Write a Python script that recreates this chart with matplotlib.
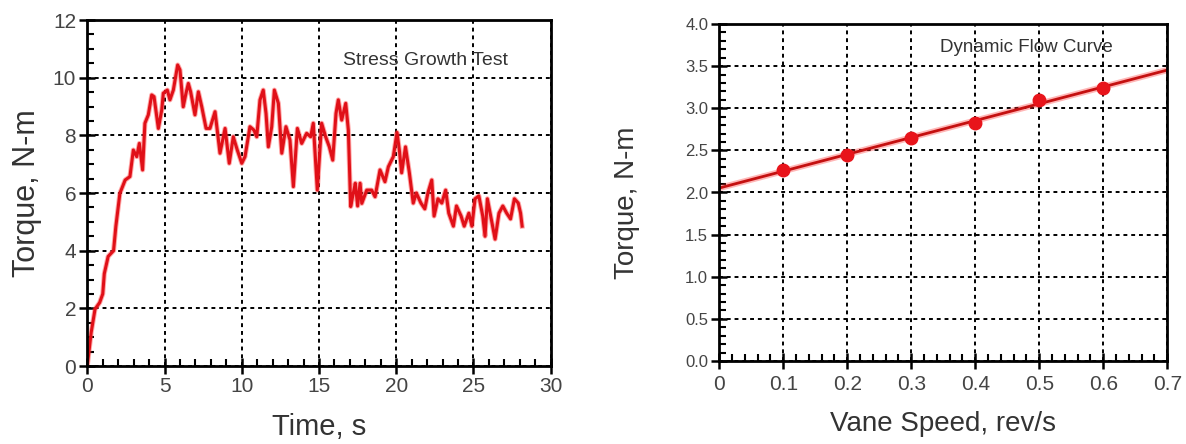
import numpy as np
import matplotlib.pyplot as plt
from matplotlib.ticker import MultipleLocator

plt.rcParams['font.family'] = ['Liberation Sans', 'DejaVu Sans']

# Stress growth test (time in s, torque in N-m)
time_s = [0.0, 0.25, 0.5, 0.8, 1.0, 1.1, 1.35, 1.7, 1.85, 2.11, 2.45, 2.76, 2.98,
          3.2, 3.37, 3.58, 3.73, 3.95, 4.17, 4.32, 4.6, 4.82, 4.92, 5.18, 5.35,
          5.57, 5.85, 6.0, 6.21, 6.39, 6.54, 6.69, 6.97, 7.19, 7.41, 7.69, 7.94,
          8.27, 8.59, 8.92, 9.19, 9.45, 9.71, 10.0, 10.21, 10.53, 10.79, 10.97,
          11.18, 11.39, 11.57, 11.72, 11.94, 12.11, 12.37, 12.59, 12.86, 13.12,
          13.34, 13.6, 13.88, 14.2, 14.46, 14.63, 14.89, 15.17, 15.43, 15.67,
          15.89, 16.1, 16.25, 16.47, 16.73, 16.9, 17.05, 17.22, 17.35, 17.5,
          17.66, 17.77, 18.09, 18.41, 18.63, 18.95, 19.27, 19.49, 19.81, 20.05,
          20.2, 20.35, 20.6, 20.85, 21.1, 21.3, 21.6, 21.85, 22.05, 22.3, 22.45,
          22.7, 22.95, 23.2, 23.4, 23.7, 23.9, 24.2, 24.4, 24.7, 24.9, 25.1,
          25.35, 25.6, 25.75, 25.9, 26.15, 26.4, 26.65, 26.9, 27.15, 27.4,
          27.65, 27.9, 28.05, 28.15]
torque_t = [0.0, 1.16, 1.97, 2.2, 2.5, 3.2, 3.8, 4.0, 4.85, 5.99, 6.45, 6.57, 7.49,
            7.26, 7.72, 6.8, 8.42, 8.71, 9.4, 9.34, 8.24, 8.88, 9.46, 9.57, 9.23,
            9.57, 10.44, 10.27, 8.99, 9.46, 9.8, 9.51, 8.71, 9.51, 8.99, 8.24, 8.24,
            8.82, 7.38, 8.24, 7.03, 7.95, 7.49, 7.03, 7.26, 8.3, 8.18, 7.95,
            9.23, 9.57, 8.76, 7.6, 8.3, 9.57, 9.11, 7.38, 8.3, 7.84,
            6.22, 8.24, 7.72, 8.07, 7.95, 8.42, 6.1, 8.42, 7.95, 7.6,
            7.14, 8.76, 9.23, 8.53, 9.11, 8.18, 5.53, 5.99, 6.34, 5.55,
            6.34, 5.64, 6.1, 6.1, 5.87, 6.8, 6.39, 6.91, 7.26, 8.1,
            7.5, 6.7, 7.6, 6.7, 5.65, 6.0, 5.65, 5.45, 6.0, 6.45, 5.2,
            5.8, 5.65, 6.1, 5.3, 4.85, 5.55, 5.2, 4.85, 5.3, 4.85, 5.8,
            5.9, 5.2, 4.5, 5.8, 5.1, 4.4, 5.3, 5.55, 5.3, 5.1,
            5.8, 5.65, 5.3, 4.85]

# Dynamic flow curve (vane speed in rev/s, torque in N-m)
vane_speed = [0.1, 0.2, 0.3, 0.4, 0.5, 0.6]
torque_v = [2.27, 2.44, 2.65, 2.82, 3.10, 3.24]

fig = plt.figure(figsize=(11.86, 4.44), dpi=100)
ax1 = fig.add_axes([87.3 / 1186, 1 - 366 / 444, 463.4 / 1186, 346 / 444])
ax2 = fig.add_axes([719.3 / 1186, 1 - 361 / 444, 448 / 1186, 337 / 444])

label_col = '#333333'
tick_col = '#444444'


def style(ax):
    for s in ax.spines.values():
        s.set_linewidth(2)
    ax.grid(True, which='major', color='black', linestyle=(0, (2, 2)), linewidth=1.4)
    ax.tick_params(which='major', direction='inout', length=12, width=1.8,
                   colors='black', labelcolor=tick_col)
    ax.tick_params(which='minor', direction='in', length=5, width=1.5, colors='black')
    ax.set_axisbelow(True)


# left: stress growth
ax1.plot(time_s, torque_t, color='#ff4040', linewidth=3.6, alpha=0.45)
ax1.plot(time_s, torque_t, color='#e01018', linewidth=2.2)
ax1.set_xlim(0, 30)
ax1.set_ylim(0, 12)
ax1.xaxis.set_major_locator(MultipleLocator(5))
ax1.xaxis.set_minor_locator(MultipleLocator(1))
ax1.yaxis.set_major_locator(MultipleLocator(2))
ax1.yaxis.set_minor_locator(MultipleLocator(0.5))
style(ax1)
ax1.tick_params(axis='both', which='major', labelsize=15, pad=2)
ax1.set_xlabel('Time, s', fontsize=21, color=label_col, labelpad=12)
ax1.set_ylabel('Torque, N-m', fontsize=22, color=label_col, labelpad=8)
ax1.text(21.9, 10.58, 'Stress Growth Test', fontsize=14, color=label_col,
         ha='center', va='center')

# right: dynamic flow curve with linear fit
slope, intercept = np.polyfit(vane_speed, torque_v, 1)
xfit = np.array([0.0, 0.7])
ax2.plot(xfit, intercept + slope * xfit, color='#ff3030', linewidth=4.5, alpha=0.35)
ax2.plot(xfit, intercept + slope * xfit, color='#c41010', linewidth=2)
ax2.plot(vane_speed, torque_v, 'o', color='#e8141b', markersize=9)
ax2.set_xlim(0, 0.7)
ax2.set_ylim(0, 4.0)
ax2.xaxis.set_minor_locator(MultipleLocator(0.02))
ax2.yaxis.set_major_locator(MultipleLocator(0.5))
ax2.yaxis.set_minor_locator(MultipleLocator(0.1))
ax2.set_xticks(np.arange(0, 0.71, 0.1))
ax2.set_xticklabels(['0', '0.1', '0.2', '0.3', '0.4', '0.5', '0.6', '0.7'])
ax2.yaxis.set_major_formatter(plt.FormatStrFormatter('%.1f'))
style(ax2)
ax2.tick_params(axis='x', which='major', labelsize=15, pad=4)
ax2.tick_params(axis='y', which='major', labelsize=12, pad=2)
ax2.set_xlabel('Vane Speed, rev/s', fontsize=20, color=label_col, labelpad=12)
ax2.set_ylabel('Torque, N-m', fontsize=20, color=label_col, labelpad=22)
ax2.yaxis.set_label_coords(-0.178, 0.47)
ax2.text(0.48, 3.72, 'Dynamic Flow Curve', fontsize=13.5, color=label_col,
         ha='center', va='center')

fig.savefig('out.png', dpi=100)
